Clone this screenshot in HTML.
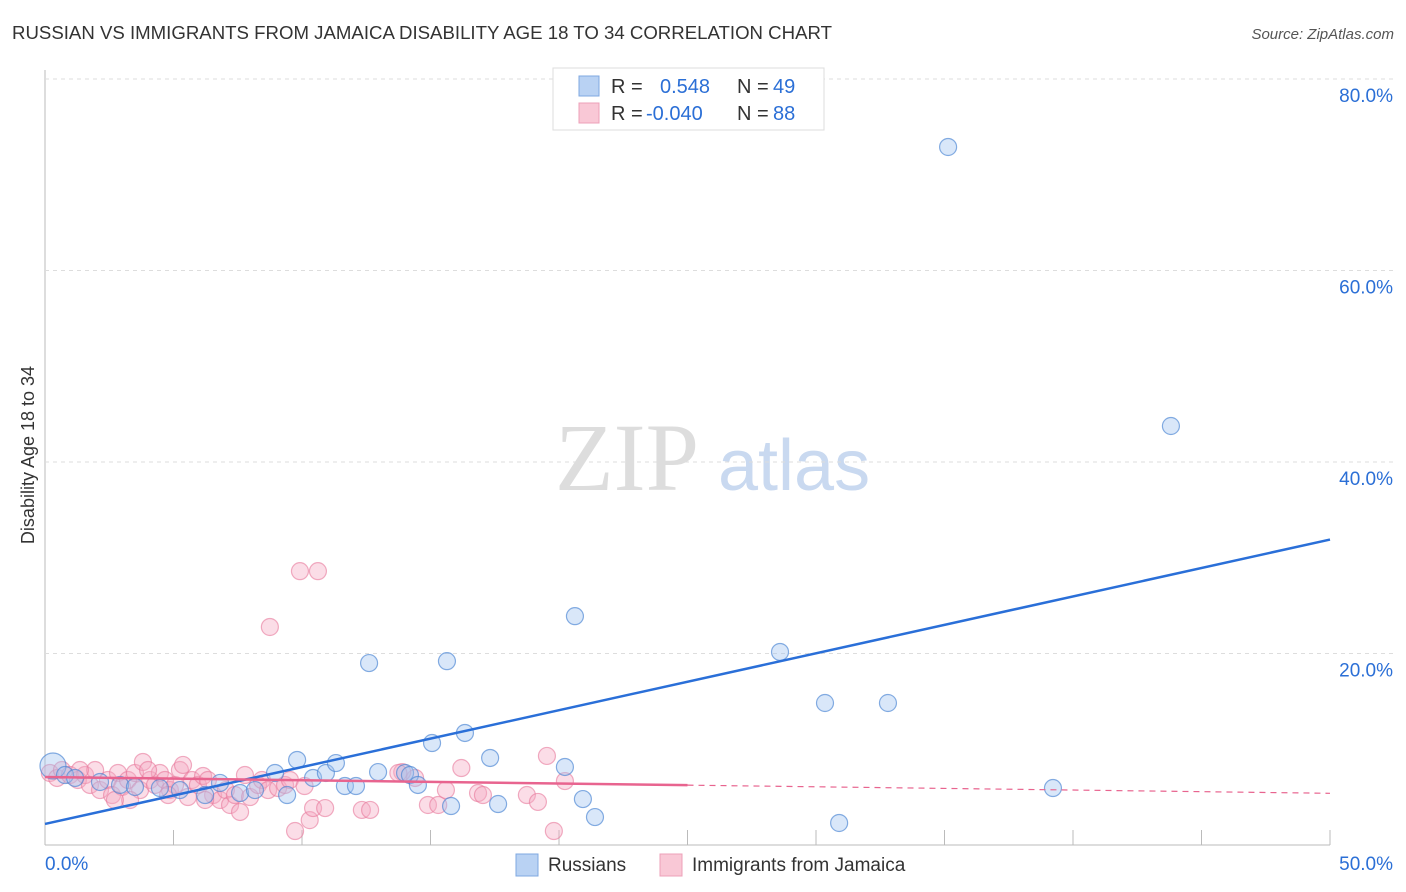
<!DOCTYPE html>
<html><head><meta charset="utf-8"><style>
body{margin:0;background:#fff;font-family:"Liberation Sans",sans-serif}
svg{display:block}
</style></head><body>
<svg id="c" width="1406" height="892">
<text x="12" y="39" font-size="18" fill="#333" textLength="820" lengthAdjust="spacingAndGlyphs">RUSSIAN VS IMMIGRANTS FROM JAMAICA DISABILITY AGE 18 TO 34 CORRELATION CHART</text>
<text x="1394" y="39" font-size="15" fill="#555" font-style="italic" text-anchor="end">Source: ZipAtlas.com</text>
<text x="555" y="490" font-size="96" fill="#ddd" font-family="Liberation Serif,serif">ZIP</text>
<text x="718" y="490" font-size="72" fill="#c9d9f0">atlas</text>
<text transform="translate(34,455) rotate(-90)" font-size="18" fill="#333" text-anchor="middle">Disability Age 18 to 34</text>
<g id="grid"></g><g id="pts"></g><g id="lines"></g>
<g>
<rect x="553" y="68" width="271" height="62" fill="#fff" stroke="#ddd"/>
<rect x="579" y="76" width="20" height="20" fill="#b9d2f3" stroke="#7fa8e0"/>
<rect x="579" y="103" width="20" height="20" fill="#f9c8d6" stroke="#eda0b8"/>
<text y="93" font-size="20" fill="#333"><tspan x="611">R =</tspan><tspan x="660" fill="#2b6fd6">0.548</tspan><tspan x="737">N =</tspan><tspan x="773" fill="#2b6fd6">49</tspan></text>
<text y="120" font-size="20" fill="#333"><tspan x="611">R =</tspan><tspan x="646" fill="#2b6fd6">-0.040</tspan><tspan x="737">N =</tspan><tspan x="773" fill="#2b6fd6">88</tspan></text>
</g>
<g>
<rect x="516" y="854" width="22" height="22" fill="#b9d2f3" stroke="#7fa8e0"/>
<text x="548" y="871" font-size="19" fill="#333">Russians</text>
<rect x="660" y="854" width="22" height="22" fill="#f9c8d6" stroke="#eda0b8"/>
<text x="692" y="871" font-size="19" fill="#333">Immigrants from Jamaica</text>
</g>
</svg>
<script>
const yTicks=[20,40,60,80];
const xTickLabels=["0.0%","50.0%"];
const blueX=[0.31,0.78,1.17,2.14,2.92,3.5,4.47,5.25,6.23,6.81,7.59,8.17,8.95,9.42,9.81,10.43,10.93,11.32,11.67,12.1,12.61,12.96,14.01,14.2,14.51,15.06,15.64,15.8,16.34,17.32,17.63,20.23,20.62,20.93,21.4,28.6,30.35,30.9,32.8,35.14,39.22,43.81];
const blueY=[8.25,7.31,7.0,6.58,6.27,6.06,5.95,5.74,5.22,6.48,5.43,5.74,7.52,5.22,8.88,7.0,7.52,8.56,6.16,6.16,19.0,7.62,7.52,7.31,6.27,10.65,19.2,4.07,11.7,9.09,4.28,8.15,23.9,4.8,2.92,20.16,14.83,2.3,14.83,72.9,5.95,43.76];
const pinkX=[0.19,0.47,0.66,0.97,1.28,1.56,1.75,1.95,2.14,2.45,2.61,2.84,3.0,3.23,3.5,3.7,3.81,4.09,4.28,4.47,4.67,4.86,5.06,5.25,5.37,5.56,5.72,5.95,6.15,6.34,6.54,6.81,7.04,7.2,7.39,7.59,7.78,7.98,8.29,8.44,8.68,9.07,9.34,9.53,1.36,3.31,4.79,4.01,2.72,6.23,8.75,9.92,10.62,9.73,10.3,10.43,10.9,12.33,12.65,10.1,14.4,14.9,15.3,15.6,16.2,16.85,17.04,18.75,19.18,19.53,19.8,20.23,13.9,13.75];
const pinkY=[7.52,7.0,7.83,7.31,6.79,7.31,6.27,7.83,5.74,6.79,5.22,7.52,6.06,6.79,7.52,5.74,8.67,6.79,6.27,7.52,6.79,5.74,6.27,7.83,8.36,5.01,6.79,6.27,7.21,6.79,5.22,4.7,5.74,4.18,5.22,3.45,7.31,5.01,6.27,6.79,5.74,5.95,6.27,6.79,7.83,4.7,5.22,7.83,4.7,4.7,22.77,28.6,28.6,1.46,2.6,3.86,3.86,3.66,3.66,6.16,7.0,4.18,4.18,5.74,8.04,5.43,5.22,5.22,4.5,9.3,1.46,6.68,7.62,7.52];
const blueLine=[2.2,31.9], pinkLine=[7.1,5.4];
const X=v=>45+v/50*1285, Y=v=>845-v/20*191.5;
const NS="http://www.w3.org/2000/svg";
function mk(t,a,p){const e=document.createElementNS(NS,t);for(const k in a)e.setAttribute(k,a[k]);p.appendChild(e);return e;}
const g=document.getElementById('grid');
mk('line',{x1:45,y1:70,x2:45,y2:845,stroke:'#bbb'},g);
mk('line',{x1:45,y1:845,x2:1330,y2:845,stroke:'#bbb'},g);
for(let i=1;i<=10;i++){const l=mk('line',{x1:45+i*128.5,y1:830,x2:45+i*128.5,y2:845,stroke:'#bbb'},g);}
yTicks.forEach(t=>{
 const l=mk('line',{x1:45,y1:Y(t),x2:1394,y2:Y(t),stroke:'#ddd','stroke-dasharray':'4,4'},g);
 
 
 const tx=mk('text',{x:1393,y:Y(t)+23,'font-size':19,fill:'#2b6fd6','text-anchor':'end'},g);tx.textContent=t+'.0%';
 
 
});
const a=mk('text',{x:45,y:870,'font-size':19,fill:'#2b6fd6'},g);a.textContent=xTickLabels[0];


const b=mk('text',{x:1393,y:870,'font-size':19,fill:'#2b6fd6','text-anchor':'end'},g);b.textContent=xTickLabels[1];


const p=document.getElementById('pts');
pinkX.forEach((x,i)=>{const c=mk('circle',{cx:X(x),cy:Y(pinkY[i]),r:8.5,fill:'rgba(246,170,195,0.4)',stroke:'rgba(232,120,155,0.6)','stroke-width':1.2},p);
 
 });
blueX.forEach((x,i)=>{const c=mk('circle',{cx:X(x),cy:Y(blueY[i]),r:i==0?13:8.5,fill:'rgba(160,195,240,0.4)',stroke:'rgba(70,130,210,0.65)','stroke-width':1.2},p);
 
 });
const L=document.getElementById('lines');
const bl=mk('line',{x1:X(0),y1:Y(blueLine[0]),x2:X(50),y2:Y(blueLine[1]),stroke:'#2a6fd8','stroke-width':2.5},L);


const pm=pinkLine[0]+(pinkLine[1]-pinkLine[0])*0.5;
const pl=mk('line',{x1:X(0),y1:Y(pinkLine[0]),x2:X(25),y2:Y(pm),stroke:'#e8648f','stroke-width':2.5},L);


const pd=mk('line',{x1:X(25),y1:Y(pm),x2:X(50),y2:Y(pinkLine[1]),stroke:'#e8648f','stroke-width':1.2,'stroke-dasharray':'6,5'},L);


</script>
</body></html>
